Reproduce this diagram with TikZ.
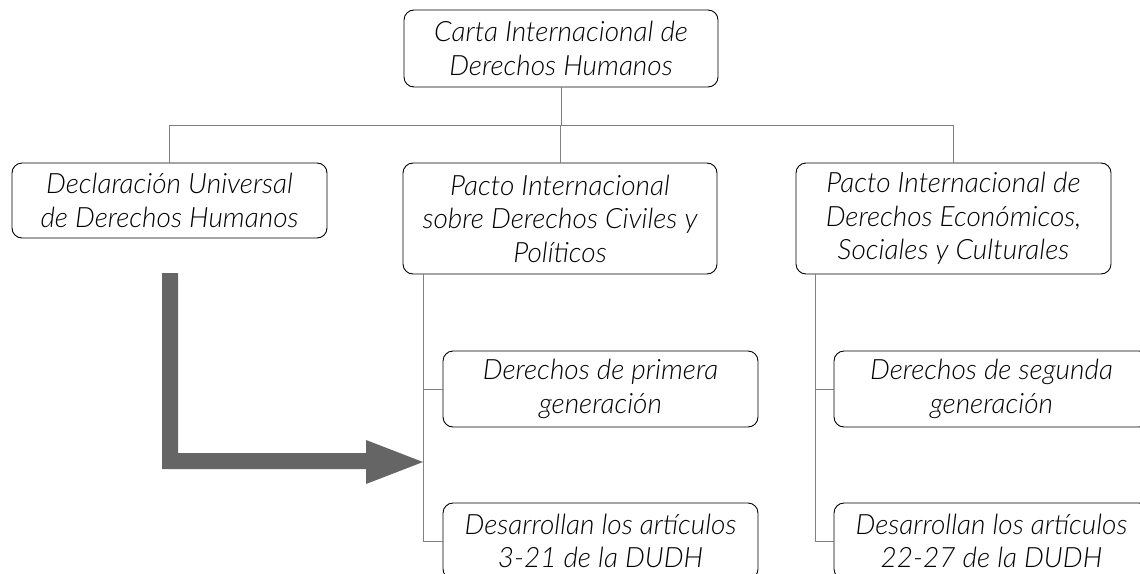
\documentclass[tikz,border=0pt]{standalone}
\usepackage{fontspec}
\setmainfont{Lato}[ItalicFont={Lato Light Italic}]
\usetikzlibrary{positioning}
\definecolor{linegray}{HTML}{808080}
\definecolor{arrowgray}{HTML}{656565}
\tikzset{
  box/.style={draw=black, line width=0.9pt, rounded corners=10pt, inner sep=0pt,
    align=center, font=\fontsize{28}{33.5}\selectfont\itshape},
  conn/.style={draw=linegray, line width=1pt}
}
\begin{document}
\begin{tikzpicture}[x=1pt,y=-1pt]
\useasboundingbox (0,0) rectangle (1140,573);
\clip (0,0) rectangle (1140,573);
\fill[white] (0,0) rectangle (1140,573);
% nodes
\node[box, minimum width=314pt, minimum height=77pt] (top) at (561,48.5) {Carta Internacional de\\Derechos Humanos};
\node[box, minimum width=315pt, minimum height=75pt] (udhr) at (169.5,200.5) {Declaración Universal\\de Derechos Humanos};
\node[box, minimum width=314pt, minimum height=111pt] (civ) at (560,218.5) {Pacto Internacional\\sobre Derechos Civiles y\\Políticos};
\node[box, minimum width=315pt, minimum height=111pt] (eco) at (953.5,218.5) {Pacto Internacional de\\Derechos Económicos,\\Sociales y Culturales};
\node[box, minimum width=315pt, minimum height=76pt] (c1) at (600.5,389) {Derechos de primera\\generación};
\node[box, minimum width=315pt, minimum height=76pt] (c2) at (600.5,541) {Desarrollan los artículos\\3-21 de la DUDH};
\node[box, minimum width=315pt, minimum height=76pt] (e1) at (991.5,389) {Derechos de segunda\\generación};
\node[box, minimum width=315pt, minimum height=76pt] (e2) at (991.5,541) {Desarrollan los artículos\\22-27 de la DUDH};
% connectors
\coordinate (hub) at (561,125);
\draw[conn] (top.south) -- (hub);
\draw[conn] (udhr.north) -- (udhr.north |- hub) -- (eco.north |- hub) -- (eco.north);
\draw[conn] (civ.north) -- (civ.north |- hub);
\coordinate (mv) at ([xshift=21pt]civ.south west);
\coordinate (ev) at ([xshift=20pt]eco.south west);
\draw[conn] (mv) |- (c1.west);
\draw[conn] (mv) |- (c2.west);
\draw[conn] (ev) |- (e1.west);
\draw[conn] (ev) |- (e2.west);
% big arrow
\fill[arrowgray] (162,273) -- (178,273) -- (178,453) -- (366,453) -- (366,440) -- (423,462) -- (366,484) -- (366,469) -- (162,469) -- cycle;
\end{tikzpicture}
\end{document}
